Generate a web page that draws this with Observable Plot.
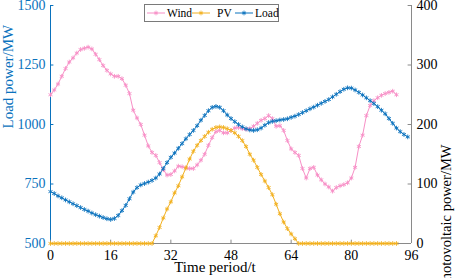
<!DOCTYPE html>
<html>
<head>
<meta charset="utf-8">
<script src="https://cdn.jsdelivr.net/npm/d3@7"></script>
<script src="https://cdn.jsdelivr.net/npm/@observablehq/plot@0.6"></script>
<style>
  html, body { margin: 0; padding: 0; background: #fff; }
  #wrap { position: relative; width: 457px; height: 278px; overflow: hidden; }
  #legend { position: absolute; left: 144px; top: 4px; }
</style>
</head>
<body>
<div id="wrap"></div>
<script>
// ---------- data ----------
const seriesNames = ["Wind", "PV", "Load"];
const seriesColors = ["#f78fc6", "#f2b01e", "#0a72bd"];

// Load power (MW), periods 0..95, left axis
const loadMW = [
  718,710,700,692,683,675,667,659,651,643,636,628,621,615,609,604,601,
  605,618,638,660,688,716,735,746,752,758,765,775,
  792,815,840,862,880,900,920,940,958,975,995,1018,1038,1058,1072,1076,
  1072,1058,1040,1025,1012,1000,990,982,977,975,978,985,997,1008,1013,1016,1019,1021,1024,
  1030,1035,1042,1050,1058,1066,1073,1081,1089,1097,1105,1116,1127,1138,1148,1154,
  1153,1145,1135,1124,1112,1100,1088,1075,1060,1045,1025,1005,985,970,958,948
];

// Wind power (MW), periods 0..92, right axis
const windMW = [
  250,258,268,281,294,305,312,320,326,328,
  330,327,318,309,299,291,285,281,281,277,
  266,252,224,211,200,182,164,153,148,136,
  124,115,116,122,130,129,127,126,126,132,
  140,150,165,178,188,190,186,186,190,194,
  195,193,192,193,197,202,207,210,215,210,
  197,198,190,173,159,153,148,126,110,126,
  128,115,107,100,95,88,94,97,99,102,
  110,128,163,182,215,232,240,245,249,252,
  254,256,250
];

// Photovoltaic power (MW), periods 0..92, right axis
const pvMW = [
  0,0,0,0,0,0,0,0,0,0,0,0,0,0,0,0,0,0,0,0,0,0,0,0,0,0,0,0,
  13,27,43,58,70,85,97,112,127,142,155,165,173,180,187,192,195,196,195,193,
  190,186,180,173,163,150,140,128,116,105,94,82,66,50,36,25,16,8,
  0,0,0,0,0,0,0,0,0,0,0,0,0,0,0,0,0,0,0,0,0,0,0,0,0,0,0
];

const xTicks = [0, 16, 32, 48, 64, 80, 96];
const leftTicks = [500, 750, 1000, 1250, 1500];
const rightTicks = [0, 100, 200, 300, 400];

// ---------- dual-axis mapping (right 0..400 onto left 500..1500) ----------
const toLeft = v => 500 + v * (1000 / 400);

const windRows = windMW.map((v, i) => ({t: i, y: toLeft(v)}));
const pvRows = pvMW.map((v, i) => ({t: i, y: toLeft(v)}));
const loadRows = loadMW.map((v, i) => ({t: i, y: v}));

const [WIND, PV, LOAD] = seriesColors;
const GRAY = "#8a8a8a";
const FONT = "'Liberation Serif', 'Times New Roman', serif";

function series(rows, color) {
  return [
    Plot.line(rows, {x: "t", y: "y", stroke: color, strokeWidth: 1}),
    Plot.dot(rows, {x: "t", y: "y", symbol: "asterisk", r: 2.2, stroke: color, strokeWidth: 0.9})
  ];
}

const chart = Plot.plot({
  width: 457,
  height: 278,
  marginLeft: 50,
  marginRight: 46,
  marginTop: 5,
  marginBottom: 35,
  style: {fontFamily: FONT, fontSize: "14px", background: "white", color: "black", overflow: "visible"},
  x: {domain: [0, 96]},
  y: {domain: [500, 1500]},
  marks: [
    // axis lines
    Plot.ruleX([0], {stroke: LOAD, strokeWidth: 1}),
    Plot.ruleX([96], {stroke: GRAY, strokeWidth: 1}),
    Plot.ruleY([500], {stroke: GRAY, strokeWidth: 1.2}),
    // inward tick marks
    Plot.ruleY(leftTicks, {x1: 0, x2: 0.9, stroke: LOAD}),
    Plot.ruleY(rightTicks.map(toLeft), {x1: 95.1, x2: 96, stroke: GRAY}),
    Plot.ruleX(xTicks, {y1: 500, y2: 514, stroke: GRAY}),
    // tick labels
    Plot.axisY(leftTicks, {anchor: "left", tickSize: 0, tickPadding: 5, color: LOAD, label: null, fontSize: 14,
      tickFormat: d => String(d)}),
    Plot.axisY(rightTicks.map(toLeft), {anchor: "right", tickSize: 0, tickPadding: 5, label: null, fontSize: 14,
      tickFormat: d => String(Math.round((d - 500) * 400 / 1000))}),
    Plot.axisX(xTicks, {anchor: "bottom", tickSize: 0, tickPadding: 7, label: null, fontSize: 14,
      tickFormat: d => String(d)}),
    // axis titles
    Plot.text(["Time period/t"], {frameAnchor: "bottom", dx: -16, dy: 28, fontSize: 15, fill: "black"}),
    Plot.text(["Load power/MW"], {frameAnchor: "left", rotate: -90, dx: -42, dy: 4, fontSize: 15, fill: LOAD}),
    Plot.text(["Wind power, photovoltaic power/MW"], {frameAnchor: "right", rotate: -90, dx: 35, dy: 20, fontSize: 14.5, fill: "black"}),
    // data
    ...series(windRows, WIND),
    ...series(pvRows, PV),
    ...series(loadRows, LOAD)
  ]
});

const wrap = document.getElementById("wrap");
wrap.appendChild(chart);

// ---------- legend (inside the plot, top) ----------
const lw = 134, lh = 17;
const leg = d3.select(wrap).append("svg")
  .attr("id", "legend").attr("width", lw + 1).attr("height", lh + 1);
leg.append("rect").attr("x", 0.5).attr("y", 0.5).attr("width", lw).attr("height", lh)
  .attr("fill", "white").attr("stroke", "#7a7a7a").attr("stroke-width", 1);
const itemX = [3, 48, 91];
const textX = [23, 73, 111];
const star = d3.symbol(d3.symbolAsterisk, 2.2 * 2.2 * Math.PI)();
seriesNames.forEach((name, i) => {
  const g = leg.append("g");
  g.append("line").attr("x1", itemX[i]).attr("x2", itemX[i] + 18)
    .attr("y1", 9).attr("y2", 9).attr("stroke", seriesColors[i]).attr("stroke-width", 1);
  g.append("path").attr("d", star).attr("transform", `translate(${itemX[i] + 9},9)`)
    .attr("fill", "none").attr("stroke", seriesColors[i]).attr("stroke-width", 0.9);
  g.append("text").attr("x", textX[i]).attr("y", 13).text(name)
    .attr("font-family", FONT).attr("font-size", 11.5).attr("fill", "black");
});
</script>
</body>
</html>
